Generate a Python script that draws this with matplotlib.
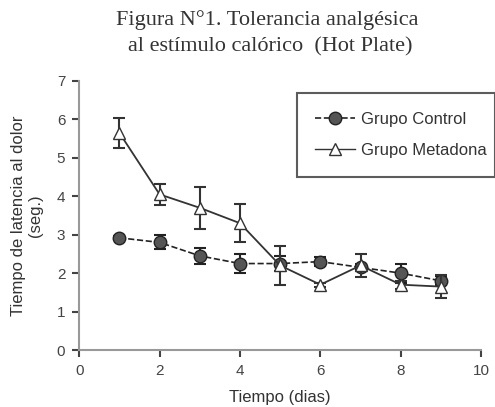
import matplotlib
matplotlib.use('Agg')
import matplotlib.pyplot as plt
from matplotlib.lines import Line2D

dias = [1, 2, 3, 4, 5, 6, 7, 8, 9]
control = [2.92, 2.8, 2.45, 2.25, 2.25, 2.3, 2.15, 2.0, 1.8]
control_err = [0.05, 0.18, 0.2, 0.25, 0.2, 0.12, 0.1, 0.25, 0.12]
metadona = [5.65, 4.05, 3.7, 3.3, 2.2, 1.7, 2.2, 1.7, 1.65]
metadona_err = [0.4, 0.28, 0.55, 0.5, 0.5, 0.05, 0.3, 0.1, 0.3]

fig = plt.figure(figsize=(4.95, 4.07), dpi=100)
ax = fig.add_axes([0.160, 0.140, 0.812, 0.661])

ax.errorbar(dias, control, yerr=control_err, fmt='o--', color='#222222',
            mfc='#555555', mec='#222222', ms=9, lw=1.2, elinewidth=1.5,
            capsize=4, capthick=1.5, zorder=3)
ax.errorbar(dias, metadona, yerr=metadona_err, fmt='^-', color='#333333',
            mfc='white', mec='#333333', ms=9, lw=1.3, elinewidth=1.5,
            capsize=4, capthick=1.5, zorder=4)

ax.set_xlim(0, 10)
ax.set_ylim(0, 7)
ax.set_xticks([0, 2, 4, 6, 8, 10])
ax.set_yticks(range(8))
for s in ['top', 'right']:
    ax.spines[s].set_visible(False)
for s in ['left', 'bottom']:
    ax.spines[s].set_color('#999999')
    ax.spines[s].set_linewidth(1.5)
ax.tick_params(direction='out', length=5, width=1.5, color='#444444',
               labelsize=11, labelcolor='#444444', pad=5)
for lbl in ax.get_xticklabels() + ax.get_yticklabels():
    lbl.set_family('Liberation Sans')

ax.set_xlabel('Tiempo (dias)', fontsize=12, family='Liberation Sans', color='#333333',
              labelpad=9)
ax.set_ylabel('Tiempo de latencia al dolor\n(seg.)', fontsize=12,
              family='Liberation Sans', color='#333333', labelpad=10)

handles = [
    Line2D([], [], ls='--', marker='o', color='#222222', mfc='#555555', ms=9, lw=1.2),
    Line2D([], [], ls='-', marker='^', color='#333333', mfc='white', ms=9, lw=1.0),
]
leg = fig.legend(handles, ['Grupo Control', 'Grupo Metadona'], loc='upper left',
                 bbox_to_anchor=(0.600, 0.562, 0.40, 0.209), mode='expand',
                 borderaxespad=0,
                 frameon=True, fancybox=False, edgecolor='#333333', borderpad=1.1,
                 labelspacing=1.0, handlelength=2.4, handletextpad=0.35,
                 prop={'family': 'Liberation Sans', 'size': 12})
leg.get_frame().set_linewidth(1.5)
for t in leg.get_texts():
    t.set_color('#333333')

fig.text(0.540, 0.950, 'Figura N°1. Tolerancia analgésica', ha='center', va='center',
         family='Liberation Serif', fontsize=16, color='#333333')
fig.text(0.545, 0.884, 'al estímulo calórico  (Hot Plate)', ha='center', va='center',
         family='Liberation Serif', fontsize=16, color='#333333')

fig.savefig('out.png', dpi=100)
